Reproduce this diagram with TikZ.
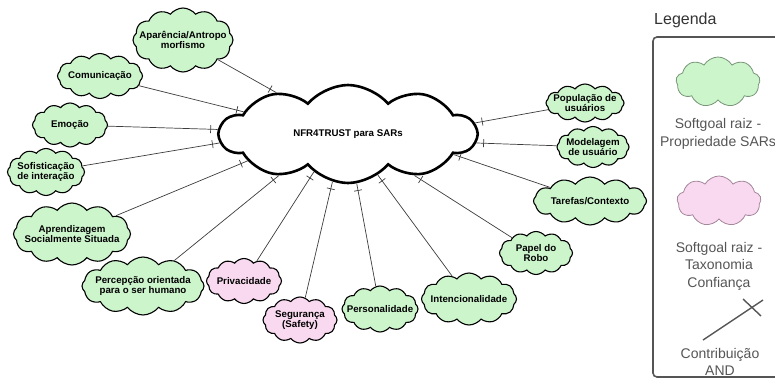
\documentclass[tikz,border=0pt]{standalone}
\usepackage{fontspec}
\setmainfont{Liberation Sans}
\usetikzlibrary{shapes.symbols,decorations.markings}
\definecolor{sgreen}{RGB}{204,245,204}
\definecolor{spink}{RGB}{249,217,240}
\definecolor{linegray}{RGB}{60,60,60}
\definecolor{leggray}{RGB}{85,85,85}
\definecolor{legtitlecol}{RGB}{51,51,51}
\definecolor{lgreenedge}{RGB}{120,150,120}
\definecolor{lpinkedge}{RGB}{165,135,155}
\newcommand{\sgfont}{\fontsize{9.7}{10}\selectfont\bfseries}
\tikzset{
  softgoal/.style={cloud, cloud puffs=12, cloud puff arc=105, draw=black, line width=1.1pt, inner sep=0pt, fill=sgreen},
  pinkgoal/.style={softgoal, fill=spink},
  sgtext/.style={align=center, font=\sgfont, text=black, inner sep=0pt},
  maingoal/.style={cloud, cloud puffs=10, cloud puff arc=100, draw=black, line width=2.6pt, fill=white, inner sep=0pt},
  andlink/.style={draw=linegray, line width=0.7pt, postaction={decorate},
    decoration={markings, mark=at position -7pt with {\draw[linegray, line width=0.7pt] (0,-4pt) -- (0,4pt);}}},
  legtext/.style={align=center, font=\fontsize{14}{17.5}\selectfont, text=leggray},
  legcloud/.style={cloud, cloud puffs=9, cloud puff arc=120, line width=0.8pt, inner sep=0pt, minimum width=84pt, minimum height=50pt},
}
\begin{document}
\begin{tikzpicture}[x=1pt,y=-1pt]
\useasboundingbox (0,0) rectangle (775,380);
% central softgoal
\node[maingoal, minimum width=256pt, minimum height=98pt, label={[sgtext]center:NFR4TRUST para SARs}] (main) at (348,134) {};
% surrounding softgoals
\node[softgoal, minimum width=100pt, minimum height=64pt, label={[sgtext]center:Aparência/Antropo\\morfismo}] (aparencia) at (183,40) {};
\node[softgoal, minimum width=85pt, minimum height=45pt, label={[sgtext]center:Comunicação}] (comunic) at (100,76) {};
\node[softgoal, minimum width=75pt, minimum height=44pt, label={[sgtext]center:Emoção}] (emocao) at (70,125) {};
\node[softgoal, minimum width=77pt, minimum height=47pt, label={[sgtext]center:Sofisticação\\de interação}] (sofist) at (46,172) {};
\node[softgoal, minimum width=117pt, minimum height=62pt, label={[sgtext]center:Aprendizagem\\Socialmente Situada}] (aprend) at (72,234) {};
\node[softgoal, minimum width=122pt, minimum height=58pt, label={[sgtext]center:Percepção orientada\\para o ser humano}] (percep) at (143,286) {};
\node[pinkgoal, minimum width=75pt, minimum height=45pt, label={[sgtext]center:Privacidade}] (privac) at (244,281) {};
\node[pinkgoal, minimum width=74pt, minimum height=46pt, label={[sgtext]center:Segurança\\(Safety)}] (segur) at (300,320) {};
\node[softgoal, minimum width=76pt, minimum height=46pt, label={[sgtext]center:Personalidade}] (person) at (380,309) {};
\node[softgoal, minimum width=95pt, minimum height=52pt, label={[sgtext]center:Intencionalidade}] (intenc) at (469,299) {};
\node[softgoal, minimum width=73pt, minimum height=43pt, label={[sgtext]center:Papel do\\Robo}] (papel) at (536,253) {};
\node[softgoal, minimum width=113pt, minimum height=48pt, label={[sgtext]center:Tarefas/Contexto}] (tarefas) at (590,201) {};
\node[softgoal, minimum width=72pt, minimum height=41pt, label={[sgtext]center:Modelagem\\de usuário}] (modelag) at (593,147) {};
\node[softgoal, minimum width=78pt, minimum height=38pt, label={[sgtext]center:População de\\usuários}] (popul) at (585,103) {};
% AND contributions
\draw[andlink] (aparencia) -- (main.150);
\draw[andlink] (comunic) -- (main.168);
\draw[andlink] (emocao) -- (main.178);
\draw[andlink] (sofist) -- (main.184);
\draw[andlink] (aprend) -- (main.195);
\draw[andlink] (percep) -- (main.211);
\draw[andlink] (privac) -- (main.228);
\draw[andlink] (segur) -- (main.252);
\draw[andlink] (person) -- (main.280);
\draw[andlink] (intenc) -- (main.306);
\draw[andlink] (papel) -- (main.328);
\draw[andlink] (tarefas) -- (main.349);
\draw[andlink] (modelag) -- (main.356);
\draw[andlink] (popul) -- (main.5);
% legend
\node[font=\fontsize{16}{18}\selectfont, text=legtitlecol, anchor=west, inner sep=0pt] (legtitle) at (654,20) {Legenda};
\draw[draw=leggray, line width=1.6pt, rounded corners=4pt] (653,37) rectangle (800,377);
\node[legcloud, fill=sgreen, draw=lgreenedge] (leggreen) at (718,82) {};
\node[legtext] (legtext1) at (718,134) {Softgoal raiz -\\Propriedade SARs};
\node[legcloud, fill=spink, draw=lpinkedge] (legpink) at (719,201) {};
\node[legtext] (legtext2) at (719,266) {Softgoal raiz -\\Taxonomia\\Confiança};
\coordinate (andstart) at (703,340);
\coordinate (andend) at (763,300);
\coordinate (crossa) at (743,299);
\coordinate (crossb) at (761,316);
\draw[leggray, line width=1.4pt] (andstart) -- (andend);
\draw[leggray, line width=1.4pt] (crossa) -- (crossb);
\node[legtext] (legtext3) at (720,362) {Contribuição\\AND};
\end{tikzpicture}
\end{document}
